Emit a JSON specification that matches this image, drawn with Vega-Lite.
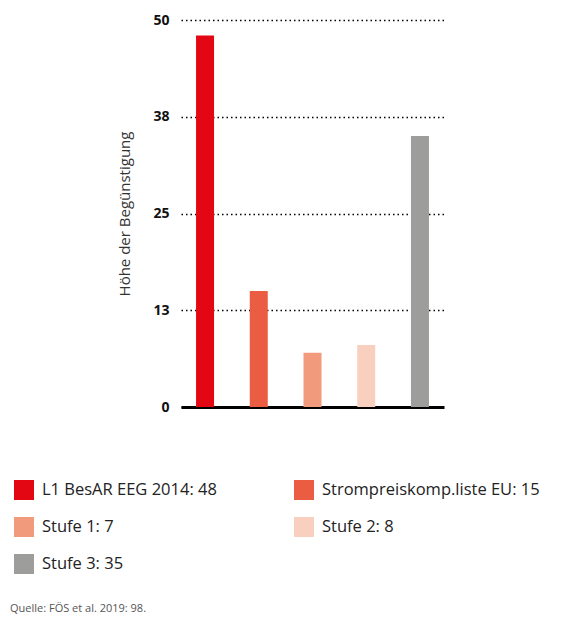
{
  "$schema": "https://vega.github.io/schema/vega-lite/v6.json",
  "autosize": {"type": "none"},
  "padding": {"left": 181, "top": 20, "right": 135, "bottom": 212},
  "width": 263,
  "height": 387,
  "background": "white",
  "config": {"view": {"stroke": null}},
  "data": {"values": [
    {"kat": "L1 BesAR EEG 2014", "wert": 48},
    {"kat": "Strompreiskomp.liste EU", "wert": 15},
    {"kat": "Stufe 1", "wert": 7},
    {"kat": "Stufe 2", "wert": 8},
    {"kat": "Stufe 3", "wert": 35}
  ]},
  "title": {
    "text": "Quelle: FÖS et al. 2019: 98.",
    "orient": "bottom",
    "anchor": "start",
    "frame": "group",
    "dx": -171,
    "dy": 25,
    "fontSize": 11,
    "fontWeight": "normal",
    "color": "#555",
    "font": "Open Sans"
  },
  "mark": {"type": "bar", "width": 18},
  "encoding": {
    "x": {
      "field": "kat", "type": "nominal", "sort": null,
      "scale": {"paddingInner": 0.665, "paddingOuter": 0.28},
      "axis": {"title": null, "labels": false, "ticks": false, "domainColor": "black", "domainWidth": 3, "grid": false}
    },
    "y": {
      "field": "wert", "type": "quantitative",
      "scale": {"domain": [0, 50], "nice": false},
      "axis": {
        "title": "Höhe der Begünstigung",
        "titleFont": "Open Sans", "titleFontSize": 15, "titleFontWeight": "normal", "titleColor": "#333", "titlePadding": 20,
        "values": [0, 12.5, 25, 37.5, 50], "format": ".0f",
        "labelFont": "Open Sans", "labelFontSize": 14, "labelFontWeight": "bold", "labelColor": "#111", "labelPadding": 12,
        "domain": false, "ticks": false,
        "grid": true, "gridColor": "#000", "gridDash": [1.5, 3], "gridWidth": 1.5
      }
    },
    "color": {
      "field": "kat", "type": "nominal", "sort": null,
      "scale": {"range": ["#E30613", "#EA5D42", "#F29A7C", "#F9CFBF", "#9D9D9C"]},
      "legend": {
        "title": null,
        "orient": "none", "legendX": -167, "legendY": 460,
        "direction": "horizontal", "columns": 2,
        "symbolType": "square", "symbolSize": 400, "symbolStrokeWidth": 0, "symbolOpacity": 1,
        "labelFont": "Open Sans", "labelFontSize": 16.5, "labelColor": "#222", "labelOffset": 8, "labelLimit": 400,
        "rowPadding": 17, "columnPadding": 77,
        "labelExpr": "datum.label + ': ' + {'L1 BesAR EEG 2014': 48, 'Strompreiskomp.liste EU': 15, 'Stufe 1': 7, 'Stufe 2': 8, 'Stufe 3': 35}[datum.label]"
      }
    }
  }
}
